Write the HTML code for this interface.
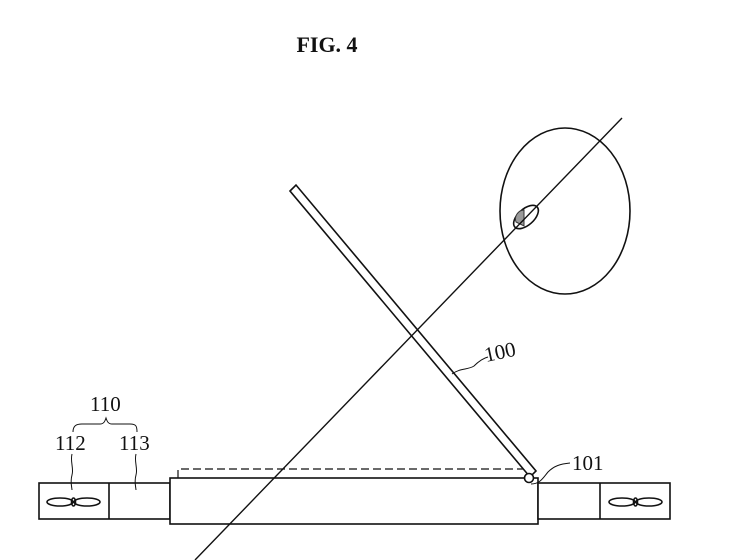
<!DOCTYPE html>
<html><head><style>body{margin:0;background:#fff}svg{display:block}</style></head><body>
<svg width="750" height="560" viewBox="0 0 750 560" xmlns="http://www.w3.org/2000/svg" font-family="Liberation Serif, serif" fill="none" stroke="#111" stroke-width="1.6">
<text x="327" y="52" font-size="22" font-weight="bold" text-anchor="middle" fill="#111" stroke="none">FIG. 4</text>
<ellipse cx="565" cy="211" rx="65" ry="83"/>
<ellipse cx="526" cy="217" rx="15" ry="8" transform="rotate(-42 526 217)"/>
<path d="M516 222 A9 9 0 0 1 524 210 L524 226 Z" fill="#999" stroke="#333" stroke-width="1"/>
<path d="M178 478 V469 H528" stroke-dasharray="8,4" stroke-width="1.2"/>
<rect x="39" y="483" width="131" height="36" fill="#fff"/>
<line x1="109" y1="483" x2="109" y2="519"/>
<rect x="170" y="478" width="368" height="46" fill="#fff"/>
<rect x="538" y="483" width="132" height="36" fill="#fff"/>
<line x1="600" y1="483" x2="600" y2="519"/>
<polygon points="290,191 296,185 536,471 530,477" fill="#fff"/>
<line x1="195" y1="560" x2="622" y2="118" stroke-width="1.4"/>
<circle cx="529" cy="478" r="4.5" fill="#fff"/>
<g stroke-width="1.6">
<ellipse cx="60" cy="502" rx="13" ry="4"/><ellipse cx="87" cy="502" rx="13" ry="4"/><ellipse cx="73.5" cy="502" rx="2" ry="4"/>
<ellipse cx="622" cy="502" rx="13" ry="4"/><ellipse cx="649" cy="502" rx="13" ry="4"/><ellipse cx="635.5" cy="502" rx="2" ry="4"/>
</g>
<g stroke-width="1">
<path d="M452 374 C460 368 468 370 474 366 C480 360 484 358 488 357"/>
<path d="M531 484 C540 484 543 478 548 472 C554 466 560 464 570 463"/>
<path d="M72 454 C70 462 74 468 72 475 C70 482 72 488 72 490"/>
<path d="M136 454 C134 462 138 468 136 475 C134 482 136 488 136 490"/>
<path d="M73 432 C73 426 76 424 82 424 H100 C104 424 105 421 106 418 C107 421 108 424 112 424 H130 C136 424 137 426 137 432"/>
</g>
<g fill="#111" stroke="none" font-size="21">
<text x="486" y="362" transform="rotate(-12 486 362)">100</text>
<text x="572" y="470">101</text>
<text x="90" y="411">110</text>
<text x="55" y="450">112</text>
<text x="119" y="450">113</text>
</g>
</svg>
</body></html>
